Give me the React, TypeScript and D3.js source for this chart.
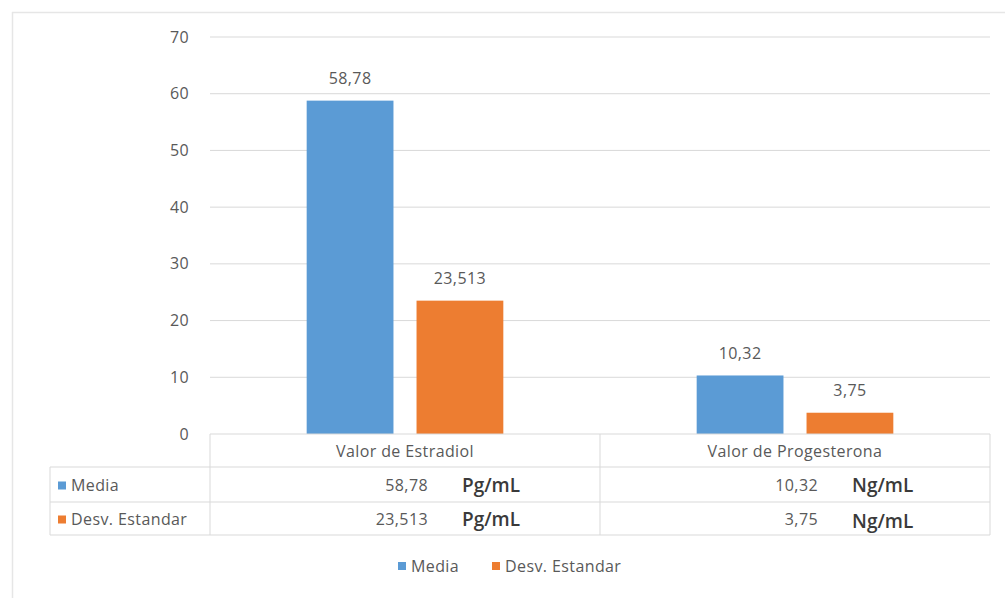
import React from 'react'
import { scaleLinear, scaleBand } from 'd3'

// Grouped bars of mean and standard deviation for two hormones, with an
// Excel-style data table under the axis and a legend at the bottom.
const categories = ['Valor de Estradiol', 'Valor de Progesterona']
const series = ['Media', 'Desv. Estandar']
const media = [58.78, 10.32]
const desv = [23.513, 3.75]
const labels = [
  ['58,78', '10,32'],
  ['23,513', '3,75'],
]
const units = ['Pg/mL', 'Ng/mL']
const yTicks = [0, 10, 20, 30, 40, 50, 60, 70]

const COLORS = ['#5b9bd5', '#ed7d31']
const FONT = "'Open Sans', 'Noto Sans', sans-serif"
const TEXT = '#595959'
const GRID = '#d9d9d9'
const FS = 16
const LS = 0.4

export default function App() {
  const width = 1005
  const height = 598
  const left = 210
  const right = 990
  const y = scaleLinear().domain([0, 70]).range([434, 37])
  const x0 = scaleBand<string>().domain(categories).range([left, right])
  const x1 = scaleBand<string>().domain(series).range([0, x0.bandwidth()]).paddingInner(0.21).paddingOuter(0.88)
  const values = [media, desv]

  const rowTop = [434, 467, 502, 535]
  const tableLeft = 50

  return (
    <svg
      width={width}
      height={height}
      viewBox={`0 0 ${width} ${height}`}
      style={{ position: 'absolute', left: 0, top: 0, background: '#fff' }}
      fontFamily={FONT}
      letterSpacing={LS}
    >
      {/* chart area frame */}
      <line x1={12} x2={width} y1={12.5} y2={12.5} stroke="#e6e6e6" strokeWidth={1.5} />
      <line x1={12.5} x2={12.5} y1={12} y2={height} stroke="#e6e6e6" strokeWidth={1.5} />

      {yTicks.map((t) => (
        <g key={t}>
          {t > 0 && <line x1={left} x2={right} y1={y(t)} y2={y(t)} stroke={GRID} strokeWidth={1} />}
          <text x={189} y={y(t)} dy="0.35em" textAnchor="end" fontSize={FS} fill={TEXT}>
            {t}
          </text>
        </g>
      ))}

      {categories.map((c, ci) =>
        series.map((s, si) => {
          const v = values[si][ci]
          const bx = (x0(c) ?? 0) + (x1(s) ?? 0)
          return (
            <g key={c + s}>
              <rect x={bx} y={y(v)} width={x1.bandwidth()} height={y(0) - y(v)} fill={COLORS[si]} />
              <text
                x={bx + x1.bandwidth() / 2}
                y={y(v) - 22}
                dy="0.35em"
                textAnchor="middle"
                fontSize={FS}
                fill={TEXT}
              >
                {labels[si][ci]}
              </text>
            </g>
          )
        }),
      )}

      {/* data table */}
      <line x1={left} x2={right} y1={rowTop[0]} y2={rowTop[0]} stroke={GRID} />
      {rowTop.slice(1).map((ry) => (
        <line key={ry} x1={tableLeft} x2={right} y1={ry} y2={ry} stroke={GRID} />
      ))}
      <line x1={tableLeft} x2={tableLeft} y1={rowTop[1]} y2={rowTop[3]} stroke={GRID} />
      {[left, ...categories.map((c) => (x0(c) ?? 0) + x0.bandwidth())].map((vx) => (
        <line key={vx} x1={vx} x2={vx} y1={rowTop[0]} y2={rowTop[3]} stroke={GRID} />
      ))}
      {categories.map((c) => (
        <text
          key={c}
          x={(x0(c) ?? 0) + x0.bandwidth() / 2}
          y={(rowTop[0] + rowTop[1]) / 2 + 1}
          dy="0.35em"
          textAnchor="middle"
          fontSize={FS}
          fill={TEXT}
        >
          {c}
        </text>
      ))}
      {series.map((s, si) => {
        const cy = (rowTop[si + 1] + rowTop[si + 2]) / 2 + 1
        return (
          <g key={s}>
            <rect x={58} y={cy - 4} width={8} height={8} fill={COLORS[si]} />
            <text x={71} y={cy} dy="0.35em" fontSize={FS} fill={TEXT}>
              {s}
            </text>
            {categories.map((c, ci) => (
              <g key={c}>
                <text x={(x0(c) ?? 0) + 218} y={cy} dy="0.35em" textAnchor="end" fontSize={FS} fill={TEXT}>
                  {labels[si][ci]}
                </text>
                <text
                  x={(x0(c) ?? 0) + 252}
                  y={cy + (si === 1 && ci === 1 ? 2 : 0)}
                  dy="0.35em"
                  fontSize={19}
                  fontWeight={600}
                  letterSpacing={0}
                  fill="#3a3a3a"
                >
                  {units[ci]}
                </text>
              </g>
            ))}
          </g>
        )
      })}

      {/* legend */}
      {series.map((s, si) => {
        const lx = si === 0 ? 398 : 492
        return (
          <g key={s}>
            <rect x={lx} y={562} width={8} height={8} fill={COLORS[si]} />
            <text x={lx + 13} y={566} dy="0.35em" fontSize={FS} fill={TEXT}>
              {s}
            </text>
          </g>
        )
      })}
    </svg>
  )
}
